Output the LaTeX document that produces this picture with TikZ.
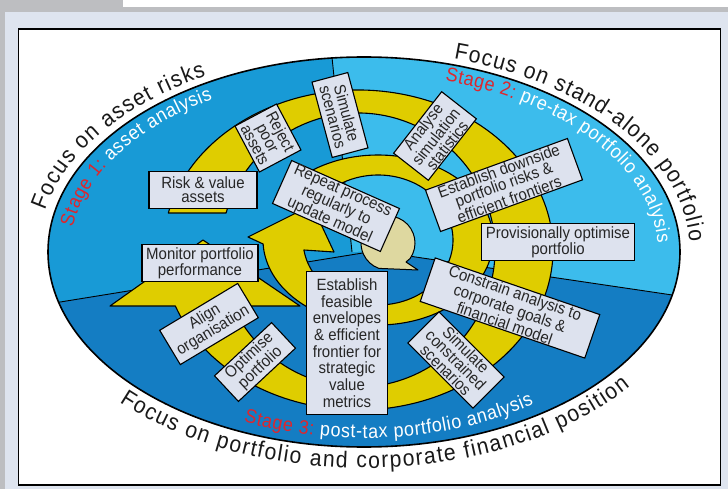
\documentclass[tikz,border=0pt]{standalone}
\usepackage{fontspec}
\setmainfont{Liberation Sans}
\newfontfamily\narrowsans{Liberation Sans}[FakeStretch=0.92]
\usetikzlibrary{calc,decorations.text}

\definecolor{pagebg}{RGB}{222,228,239}
\definecolor{framegray}{RGB}{189,190,193}
\definecolor{stageone}{RGB}{24,154,214}
\definecolor{stagetwo}{RGB}{60,188,236}
\definecolor{stagethree}{RGB}{20,125,195}
\definecolor{bandyellow}{RGB}{223,205,0}
\definecolor{boxfill}{RGB}{221,226,238}
\definecolor{hubtan}{RGB}{222,216,160}
\definecolor{stagered}{RGB}{222,38,45}

\begin{document}
\begin{tikzpicture}[x=1pt,y=1pt,
  stepbox/.style={draw=black,line width=1.1pt,fill=boxfill,inner sep=0pt,align=center,
     font=\narrowsans\fontsize{16.3}{14.3}\selectfont, text=black!85},
  band/.style={fill=bandyellow,draw=black,line width=1.1pt,line join=round},
  curvetext/.style={decorate,decoration={text along path,text align=fit to path,text={#1}}},
]
\useasboundingbox (0,0) rectangle (728,-489);
% page frame
\fill[pagebg] (0,0) rectangle (728,-489);
\fill[white] (123,0) rectangle (728,-7);
\fill[framegray] (0,-7) rectangle (728,-12);
\fill[framegray] (0,0) rectangle (123,-12);
\fill[framegray] (0,0) rectangle (4.5,-489);
\draw[fill=white,line width=1.3pt] (18.5,-29) rectangle (720.5,-485);

% the three stage sectors
\coordinate (C) at (364,-252);
\begin{scope}
  \clip (C) ellipse [x radius=316, y radius=195];
  \fill[stageone] (C) ellipse [x radius=316, y radius=195];
  \fill[stagetwo] (352,-252) -- (329.2,-30) -- (700,-30) -- (700,-299.1) -- (375,-251) -- cycle;
  \fill[stagethree] (30,-306.9) -- (375,-251) -- (700,-299.1) -- (700,-460) -- (30,-460) -- cycle;
  \draw[line width=0.9pt] (30,-306.9) -- (375,-251) -- (700,-299.1);
  \draw[line width=0.9pt] (329.2,-30) -- (352,-252);
\end{scope}
\draw[line width=1.6pt] (C) ellipse [x radius=316, y radius=195];

% outer spiral band
\coordinate (A) at (358,-250);
\path[band] ($(A)+(166.63:195 and 160)$)
  arc[start angle=166.63,end angle=-159.51,x radius=195,y radius=160]
  -- (110,-306) -- (203,-240) -- (300,-306) -- ($(A)+(-155.87:137)$)
  arc[start angle=-155.87,end angle=164.33,radius=137] -- cycle;

% inner spiral band
\coordinate (B) at (378,-240);
\path[band] ($(B)+(130:115 and 85)$)
  arc[start angle=130,end angle=-177.3,x radius=115,y radius=85]
  -- (248,-237) -- (312,-205) -- (334,-252) -- ($(B)+(-171.15:75 and 65)$)
  arc[start angle=-171.15,end angle=130,x radius=75,y radius=65] -- cycle;

% hub arrow
\coordinate (H) at (388,-243);
\path[fill=hubtan,draw=black,line width=1pt,line join=round]
  ($(H)+(-35:27)$) arc[start angle=-35,end angle=250,radius=27]
  -- (418,-270) -- (406,-262) -- cycle;

% process steps
\node[stepbox,minimum width=108pt,minimum height=37pt] (rv) at (203,-190) {Risk \& value\\assets};
\node[stepbox,minimum width=52pt,minimum height=47pt,rotate=-62] (rej) at (268,-138) {Reject\\poor\\assets};
\node[stepbox,minimum width=78pt,minimum height=37pt,rotate=-75] (sims) at (340,-115) {Simulate\\scenarios};
\node[stepbox,minimum width=78pt,minimum height=44pt,rotate=52] (ana) at (435,-136) {Analyse\\simulation\\statistics};
\node[stepbox,minimum width=151pt,minimum height=44pt,rotate=20] (estd) at (504,-185) {Establish downside\\portfolio risks \&\\efficient frontiers};
\node[stepbox,minimum width=153pt,minimum height=37pt] (prov) at (558,-242) {Provisionally optimise\\portfolio};
\node[stepbox,minimum width=174pt,minimum height=46pt,rotate=-19] (con) at (510,-308) {Constrain analysis to\\corporate goals \&\\financial model};
\node[stepbox,minimum width=92pt,minimum height=44pt,rotate=-45] (simc) at (456,-360) {Simulate\\constrained\\scenarios};
\node[stepbox,minimum width=81pt,minimum height=143pt,font=\narrowsans\fontsize{16.3}{16.7}\selectfont] (estf) at (347,-343) {Establish\\feasible\\envelopes\\\& efficient\\frontier for\\strategic\\value\\metrics};
\node[stepbox,minimum width=118pt,minimum height=47pt,rotate=-24] (rep) at (336,-206) {Repeat process\\regularly to\\update model};
\node[stepbox,minimum width=116pt,minimum height=37pt] (mon) at (200,-263) {Monitor portfolio\\performance};
\node[stepbox,minimum width=91pt,minimum height=40pt,rotate=31] (ali) at (209,-324) {Align\\organisation};
\node[stepbox,minimum width=78pt,minimum height=35pt,rotate=43] (opt) at (255,-362) {Optimise\\portfolio};

% curved headings
\path[curvetext={|\narrowsans\fontsize{23}{23}\selectfont\color{black!90}|Focus on asset risks}]
  ($(C)+(168:326 and 201)$) arc[start angle=168,end angle=119,x radius=326,y radius=201];
\path[curvetext={|\narrowsans\fontsize{23}{23}\selectfont\color{black!90}|Focus on stand-alone portfolio}]
  ($(C)+(74:326 and 201)$) arc[start angle=74,end angle=3,x radius=326,y radius=201];
\path[curvetext={|\narrowsans\fontsize{23}{23}\selectfont\color{black!90}|Focus on portfolio and corporate financial position}]
  ($(C)+(-136:340 and 216)$) arc[start angle=-136,end angle=-38.5,x radius=340,y radius=216];

\path[curvetext={|\narrowsans\fontsize{19.5}{19.5}\selectfont\color{stagered}|Stage 1: |+\color{white}|asset analysis}]
  ($(C)+(172:294 and 178)$) arc[start angle=172,end angle=121,x radius=294,y radius=178];
\path[curvetext={|\narrowsans\fontsize{19.5}{19.5}\selectfont\color{stagered}|Stage 2: |+\color{white}|pre-tax portfolio analysis}]
  ($(C)+(74:294 and 178)$) arc[start angle=74,end angle=3,x radius=294,y radius=178];
\path[curvetext={|\narrowsans\fontsize{19.5}{19.5}\selectfont\color{stagered}|Stage 3: |+\color{white}|post-tax portfolio analysis}]
  ($(C)+(-114:296 and 186)$) arc[start angle=-114,end angle=-55,x radius=296,y radius=186];
\end{tikzpicture}
\end{document}
